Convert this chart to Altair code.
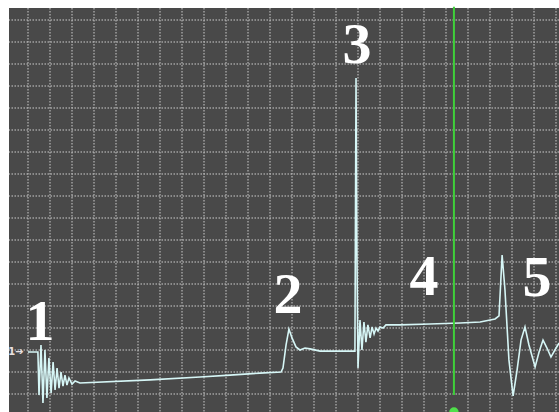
import altair as alt
import pandas as pd

# Trace readings in screen divisions (x: horizontal div, y: vertical div)
trace_x = [0.00, 0.45, 0.50, 0.59, 0.68, 0.77, 0.86, 0.95, 1.05, 1.14, 1.23, 1.32,
           1.41, 1.50, 1.59, 1.68, 1.77, 1.86, 2.00, 2.14, 2.36, 5.55, 7.82, 9.18,
           10.55, 11.50, 11.59, 11.73, 11.86, 12.00, 12.18, 12.36, 12.59, 12.82,
           13.27, 14.18, 14.86, 14.91, 14.95, 15.00, 15.09, 15.18, 15.27, 15.36,
           15.45, 15.55, 15.64, 15.73, 15.82, 15.91, 16.00, 16.14, 16.27, 16.91,
           18.27, 19.64, 20.55, 21.23, 21.41, 21.55, 21.68, 21.86, 22.05, 22.23,
           22.41, 22.59, 22.77, 23.05, 23.23, 23.41, 23.59, 23.77, 23.95, 24.14]
trace_y = [1.91, 1.91, -0.05, 2.23, -0.41, 2.00, -0.18, 1.64, 0.05, 1.45, 0.18, 1.18,
           0.27, 1.00, 0.36, 0.86, 0.41, 0.73, 0.45, 0.59, 0.50, 0.64, 0.77, 0.86,
           0.95, 1.00, 1.18, 2.23, 2.95, 2.55, 2.14, 2.00, 2.09, 2.05,
           1.95, 1.95, 1.95, 14.36, 6.45, 1.18, 3.36, 2.00, 3.27, 2.36,
           3.14, 2.55, 3.05, 2.73, 3.00, 2.86, 3.05, 3.00, 3.14, 3.14,
           3.18, 3.23, 3.27, 3.41, 3.55, 6.32, 4.73, 1.55, -0.09, 1.09,
           2.45, 3.05, 2.23, 1.23, 1.91, 2.45, 2.09, 1.68, 2.00, 2.32]

# Event markers numbered along the trace
label_text = ["1", "2", "3", "4", "5"]
label_x = [0.55, 11.82, 14.95, 18.00, 23.14]
label_y = [2.45, 3.68, 15.05, 4.50, 4.45]

# Cursor position and channel marker
cursor_x = [19.36]
cursor_top = [17.6]
cursor_bottom = [-0.05]
knob_y = [-0.82]
channel_text = ["1➔"]
channel_x = [-0.55]
channel_y = [1.91]

# Graticule divisions
grid_cols = list(range(0, 25))
grid_rows = list(range(0, 18))

X_DOM = [-0.864, 24.136]
Y_DOM = [-0.818, 17.545]

trace = pd.DataFrame({"x": trace_x, "y": trace_y, "i": range(len(trace_x))})
labels = pd.DataFrame({"t": label_text, "x": label_x, "y": label_y})
cursor = pd.DataFrame({"x": cursor_x, "y": cursor_top, "y2": cursor_bottom, "k": knob_y})
chan = pd.DataFrame({"t": channel_text, "x": channel_x, "y": channel_y})
cols = pd.DataFrame({"x": grid_cols})
rows = pd.DataFrame({"y": grid_rows})

xs = alt.Scale(domain=X_DOM, nice=False, zero=False)
ys = alt.Scale(domain=Y_DOM, nice=False, zero=False)
no_axis = None

vgrid = alt.Chart(cols).mark_rule(
    color="#b8b8b8", strokeWidth=1.5, strokeDash=[1.5, 1.5], opacity=0.8
).encode(x=alt.X("x:Q", scale=xs, axis=no_axis))

hgrid = alt.Chart(rows).mark_rule(
    color="#b8b8b8", strokeWidth=1.5, strokeDash=[1.5, 1.5], opacity=0.8
).encode(y=alt.Y("y:Q", scale=ys, axis=no_axis))

line = alt.Chart(trace).mark_line(color="#d6f6f6", strokeWidth=1.6, clip=True).encode(
    x=alt.X("x:Q", scale=xs, axis=no_axis),
    y=alt.Y("y:Q", scale=ys, axis=no_axis),
    order="i:Q",
)

rule = alt.Chart(cursor).mark_rule(color="#3fd03a", strokeWidth=2).encode(
    x=alt.X("x:Q", scale=xs), y=alt.Y("y:Q", scale=ys), y2="y2:Q"
)

knob = alt.Chart(cursor).mark_point(filled=True, color="#4fe04a", size=90, opacity=1).encode(
    x=alt.X("x:Q", scale=xs), y=alt.Y("k:Q", scale=ys)
)

text = alt.Chart(labels).mark_text(
    font="Liberation Serif", fontWeight="bold", fontSize=58, color="white",
    align="center", baseline="alphabetic"
).encode(x=alt.X("x:Q", scale=xs), y=alt.Y("y:Q", scale=ys), text="t:N")

chan_text = alt.Chart(chan).mark_text(
    font="DejaVu Sans", fontWeight="bold", fontSize=10, color="#e8e0e0",
    align="center", baseline="middle"
).encode(x=alt.X("x:Q", scale=xs), y=alt.Y("y:Q", scale=ys), text="t:N")

chart = alt.layer(vgrid, hgrid, line, rule, knob, text, chan_text).properties(
    width=550, height=404,
    padding={"left": 9, "top": 8, "right": 0, "bottom": 0},
    autosize=alt.AutoSizeParams(type="none"),
    background="white",
).configure_view(fill="#494949", stroke=None)

chart.save("out.html", embed_options={"renderer": "svg", "actions": False})
